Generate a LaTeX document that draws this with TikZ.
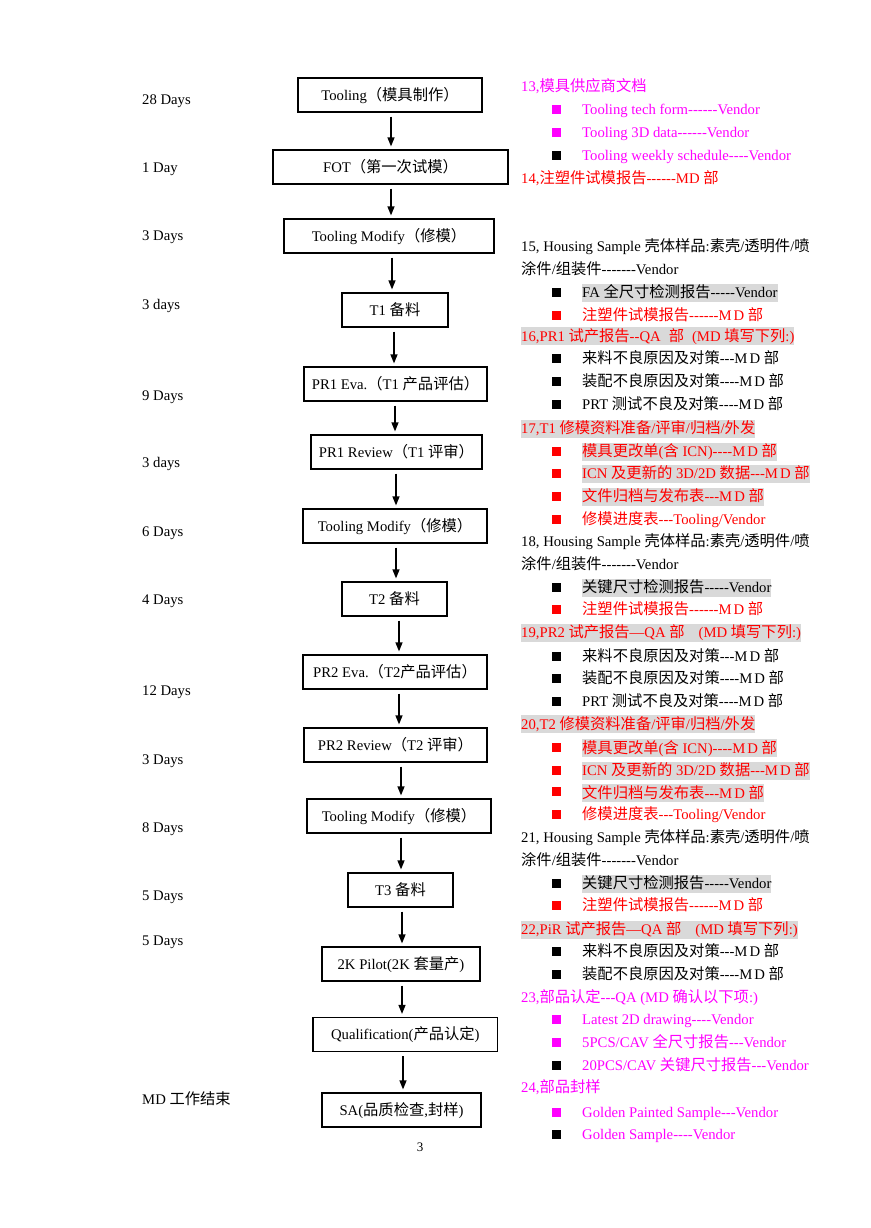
\documentclass[tikz,border=0pt]{standalone}
\usepackage{fontspec}
\setmainfont{Liberation Serif}[Ligatures=TeXOff]
\newfontfamily\cjk[Scale=1.04]{Noto Sans CJK SC}
\usetikzlibrary{arrows.meta}
\XeTeXinterchartokenstate=1
\newXeTeXintercharclass\CJKcls
\makeatletter
\def\setcjkrange#1#2{\count@=#1\relax\loop\XeTeXcharclass\count@=\CJKcls\ifnum\count@<#2\advance\count@ by 1\repeat}
\makeatother
\setcjkrange{"4E00}{"9FFF}
\setcjkrange{"3000}{"303F}
\setcjkrange{"FF00}{"FFEF}
\XeTeXcharclass"2014=0
\XeTeXcharclass"2013=0
\XeTeXinterchartoks 0 \CJKcls = {\begingroup\cjk}
\XeTeXinterchartoks 4095 \CJKcls = {\begingroup\cjk}
\XeTeXinterchartoks \CJKcls 0 = {\endgroup}
\XeTeXinterchartoks \CJKcls 4095 = {\endgroup}
\definecolor{mag}{RGB}{255,0,255}
\definecolor{rd}{RGB}{255,0,0}
\definecolor{hlgray}{RGB}{217,217,217}
\newcommand\fs{\fontsize{14.7}{17}\selectfont}
\newcommand\MD{M\kern2pt D}
\newcommand\flowarrow[3]{\draw[arr] ([xshift=#3pt,yshift=-4pt]#1.south) -- ([xshift=#3pt,yshift=3pt]#1.south |- #2.north);}
\tikzset{
  box/.style={draw, line width=1.2pt, minimum height=34pt, inner sep=0pt, text height=12.5pt, text depth=2pt, font=\fs},
  lbl/.style={anchor=west, inner sep=0pt, text height=12pt, text depth=3pt, font=\fs},
  item/.style={anchor=west, inner xsep=0pt, inner ysep=1pt, text height=13pt, text depth=3pt, font=\fs},
  hl/.style={fill=hlgray},
  arr/.style={-{Triangle[width=7pt,length=9pt]}, line width=1.3pt},
  sq/.style={rectangle, draw=none, inner sep=0pt, minimum width=9pt, minimum height=8.5pt}
}
\begin{document}
\begin{tikzpicture}[x=1pt,y=-1pt]
\useasboundingbox (0,0) rectangle (870,1228);
% ---------- flow boxes ----------
\node[box, minimum width=184pt] (b1) at (390,95) {Tooling（模具制作）};
\node[box, minimum width=235pt] (b2) at (390.5,167) {FOT（第一次试模）};
\node[box, minimum width=210pt] (b3) at (389,236) {Tooling Modify（修模）};
\node[box, minimum width=106pt] (b4) at (395,310) {T1 备料};
\node[box, minimum width=183pt] (b5) at (395.5,384) {PR1 Eva.（T1 产品评估）};
\node[box, minimum width=171pt] (b6) at (396.5,452) {PR1 Review（T1 评审）};
\node[box, minimum width=184pt] (b7) at (395,526) {Tooling Modify（修模）};
\node[box, minimum width=105pt] (b8) at (394.5,599) {T2 备料};
\node[box, minimum width=184pt] (b9) at (395,672) {PR2 Eva.（T2产品评估）};
\node[box, minimum width=183pt] (b10) at (395.5,745) {PR2 Review（T2 评审）};
\node[box, minimum width=184pt] (b11) at (399,816) {Tooling Modify（修模）};
\node[box, minimum width=105pt] (b12) at (400.5,890) {T3 备料};
\node[box, minimum width=158pt] (b13) at (401,964) {2K Pilot(2K 套量产)};
\node[box, minimum width=184.6pt] (b14) at (405.3,1034.5) {Qualification(产品认定)};
\node[box, minimum width=159pt] (b15) at (401.5,1110) {SA(品质检查,封样)};
% ---------- arrows ----------
\flowarrow{b1}{b2}{1}
\flowarrow{b2}{b3}{0.5}
\flowarrow{b3}{b4}{3}
\flowarrow{b4}{b5}{-1}
\flowarrow{b5}{b6}{-0.5}
\flowarrow{b6}{b7}{-0.5}
\flowarrow{b7}{b8}{1}
\flowarrow{b8}{b9}{4.5}
\flowarrow{b9}{b10}{4}
\flowarrow{b10}{b11}{5.5}
\flowarrow{b11}{b12}{2}
\flowarrow{b12}{b13}{1.5}
\flowarrow{b13}{b14}{1}
\flowarrow{b14}{b15}{-2.3}
% ---------- durations ----------
\node[lbl] (d1) at (142,100) {28 Days};
\node[lbl] (d2) at (142,168) {1 Day};
\node[lbl] (d3) at (142,236) {3 Days};
\node[lbl] (d4) at (142,305) {3 days};
\node[lbl] (d5) at (142,396) {9 Days};
\node[lbl] (d6) at (142,463) {3 days};
\node[lbl] (d7) at (142,532) {6 Days};
\node[lbl] (d8) at (142,600) {4 Days};
\node[lbl] (d9) at (142,691) {12 Days};
\node[lbl] (d10) at (142,760) {3 Days};
\node[lbl] (d11) at (142,828) {8 Days};
\node[lbl] (d12) at (142,896) {5 Days};
\node[lbl] (d13) at (142,941) {5 Days};
\node[lbl] (d14) at (142,1100) {MD 工作结束};
\node[font=\fontsize{13}{15}\selectfont, inner sep=0pt] (pg) at (420,1147) {3};
% ---------- right column ----------
\node[item,text=mag] (h13) at (521,87) {13,模具供应商文档};
\node[sq,fill=mag] (s13a) at (556.5,109.5) {};
\node[item,text=mag] (t13a) at (582,109) {Tooling tech form------Vendor};
\node[sq,fill=mag] (s13b) at (556.5,132.5) {};
\node[item,text=mag] (t13b) at (582,132) {Tooling 3D data------Vendor};
\node[sq,fill=black] (s13c) at (556.5,155.5) {};
\node[item,text=mag] (t13c) at (582,155) {Tooling weekly schedule----Vendor};
\node[item,text=rd] (h14) at (521,178) {14,注塑件试模报告------MD 部};

\node[item] (h15a) at (521,246) {15, Housing Sample 壳体样品:素壳/透明件/喷};
\node[item] (h15b) at (521,269) {涂件/组装件-------Vendor};
\node[sq,fill=black] (s15a) at (556.5,292.5) {};
\node[item,hl] (t15a) at (582,292.5) {FA 全尺寸检测报告-----Vendor};
\node[sq,fill=rd] (s15b) at (556.5,315.5) {};
\node[item,text=rd] (t15b) at (582,315) {注塑件试模报告------\MD\ 部};
\node[item,hl,text=rd] (h16) at (521,336) {16,PR1 试产报告--QA\hspace{8pt}部\hspace{8pt}(MD 填写下列:)};
\node[sq,fill=black] (s16a) at (556.5,358.5) {};
\node[item] (t16a) at (582,358) {来料不良原因及对策---\MD\ 部};
\node[sq,fill=black] (s16b) at (556.5,381.5) {};
\node[item] (t16b) at (582,381) {装配不良原因及对策----\MD\ 部};
\node[sq,fill=black] (s16c) at (556.5,404.5) {};
\node[item] (t16c) at (582,404) {PRT 测试不良及对策----\MD\ 部};

\node[item,hl,text=rd] (h17) at (521,428.5) {17,T1 修模资料准备/评审/归档/外发};
\node[sq,fill=rd] (s17a) at (556.5,451.5) {};
\node[item,hl,text=rd] (t17a) at (582,451.5) {模具更改单(含 ICN)----\MD\ 部};
\node[sq,fill=rd] (s17b) at (556.5,473.5) {};
\node[item,hl,text=rd] (t17b) at (582,473.5) {ICN 及更新的 3D/2D 数据---\MD\ 部};
\node[sq,fill=rd] (s17c) at (556.5,496.5) {};
\node[item,hl,text=rd] (t17c) at (582,496.5) {文件归档与发布表---\MD\ 部};
\node[sq,fill=rd] (s17d) at (556.5,519.5) {};
\node[item,text=rd] (t17d) at (582,519) {修模进度表---Tooling/Vendor};

\node[item] (h18a) at (521,541) {18, Housing Sample 壳体样品:素壳/透明件/喷};
\node[item] (h18b) at (521,564) {涂件/组装件-------Vendor};
\node[sq,fill=black] (s18a) at (556.5,587.5) {};
\node[item,hl] (t18a) at (582,587.5) {关键尺寸检测报告-----Vendor};
\node[sq,fill=rd] (s18b) at (556.5,609.5) {};
\node[item,text=rd] (t18b) at (582,609) {注塑件试模报告------\MD\ 部};
\node[item,hl,text=rd] (h19) at (521,632.5) {19,PR2 试产报告—QA 部\hspace{14pt}(MD 填写下列:)};
\node[sq,fill=black] (s19a) at (556.5,656.5) {};
\node[item] (t19a) at (582,656) {来料不良原因及对策---\MD\ 部};
\node[sq,fill=black] (s19b) at (556.5,678.5) {};
\node[item] (t19b) at (582,678) {装配不良原因及对策----\MD\ 部};
\node[sq,fill=black] (s19c) at (556.5,701.5) {};
\node[item] (t19c) at (582,701) {PRT 测试不良及对策----\MD\ 部};

\node[item,hl,text=rd] (h20) at (521,724) {20,T2 修模资料准备/评审/归档/外发};
\node[sq,fill=rd] (s20a) at (556.5,747.5) {};
\node[item,hl,text=rd] (t20a) at (582,748) {模具更改单(含 ICN)----\MD\ 部};
\node[sq,fill=rd] (s20b) at (556.5,770.5) {};
\node[item,hl,text=rd] (t20b) at (582,770.5) {ICN 及更新的 3D/2D 数据---\MD\ 部};
\node[sq,fill=rd] (s20c) at (556.5,791.5) {};
\node[item,hl,text=rd] (t20c) at (582,793) {文件归档与发布表---\MD\ 部};
\node[sq,fill=rd] (s20d) at (556.5,814.5) {};
\node[item,text=rd] (t20d) at (582,814) {修模进度表---Tooling/Vendor};

\node[item] (h21a) at (521,837) {21, Housing Sample 壳体样品:素壳/透明件/喷};
\node[item] (h21b) at (521,860) {涂件/组装件-------Vendor};
\node[sq,fill=black] (s21a) at (556.5,883.5) {};
\node[item,hl] (t21a) at (582,883.5) {关键尺寸检测报告-----Vendor};
\node[sq,fill=rd] (s21b) at (556.5,905.5) {};
\node[item,text=rd] (t21b) at (582,905) {注塑件试模报告------\MD\ 部};
\node[item,hl,text=rd] (h22) at (521,929.5) {22,PiR 试产报告—QA 部\hspace{14pt}(MD 填写下列:)};
\node[sq,fill=black] (s22a) at (556.5,951.5) {};
\node[item] (t22a) at (582,951) {来料不良原因及对策---\MD\ 部};
\node[sq,fill=black] (s22b) at (556.5,974.5) {};
\node[item] (t22b) at (582,974) {装配不良原因及对策----\MD\ 部};

\node[item,text=mag] (h23) at (521,997) {23,部品认定---QA (MD 确认以下项:)};
\node[sq,fill=mag] (s23a) at (556.5,1019.5) {};
\node[item,text=mag] (t23a) at (582,1019) {Latest 2D drawing----Vendor};
\node[sq,fill=mag] (s23b) at (556.5,1042.5) {};
\node[item,text=mag] (t23b) at (582,1042) {5PCS/CAV 全尺寸报告---Vendor};
\node[sq,fill=black] (s23c) at (556.5,1065.5) {};
\node[item,text=mag] (t23c) at (582,1065) {20PCS/CAV 关键尺寸报告---Vendor};
\node[item,text=mag] (h24) at (521,1087) {24,部品封样};
\node[sq,fill=mag] (s24a) at (556.5,1112.5) {};
\node[item,text=mag] (t24a) at (582,1112) {Golden Painted Sample---Vendor};
\node[sq,fill=black] (s24b) at (556.5,1134.5) {};
\node[item,text=mag] (t24b) at (582,1134) {Golden Sample----Vendor};
\end{tikzpicture}
\end{document}
